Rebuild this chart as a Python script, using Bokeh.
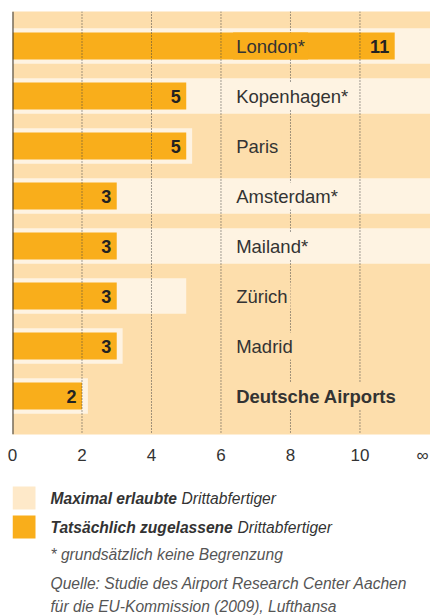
from bokeh.plotting import figure
from bokeh.models import ColumnDataSource, Range1d, FixedTicker, Span
from bokeh.layouts import column
from bokeh.core.properties import value
from bokeh.embed import file_html
from bokeh.resources import INLINE

# ---------------- data ----------------
cities = ["London*", "Kopenhagen*", "Paris", "Amsterdam*", "Mailand*",
          "Zürich", "Madrid", "Deutsche Airports"]
actual = [11, 5, 5, 3, 3, 3, 3, 2]
INF = float("inf")
max_allowed = [INF, INF, 5, INF, INF, 5, 3, 2]
tick_values = [0, 2, 4, 6, 8, 10, 11.8]
tick_labels = ["0", "2", "4", "6", "8", "10", "∞"]
grid_values = [2, 4, 6, 8, 10]

legend_max = ["Maximal erlaubte", "Drittabfertiger"]
legend_act = ["Tatsächlich zugelassene", "Drittabfertiger"]
footnote = "* grundsätzlich keine Begrenzung"
source_lines = ["Quelle: Studie des Airport Research Center Aachen",
                "für die EU-Kommission (2009), Lufthansa"]

# ---------------- styles ----------------
PEACH = "#FDDEAC"
CREAM = "#FEF3E2"
ORANGE = "#F9AE1B"
SWATCH = "#FEE9C9"
DARK = "#333333"
FONT = "Liberation Sans"

X_END = 12.03
LABEL_X = 6.35
OUTLINE = 0.17
W = 430
LEFT = 12

ys = list(range(len(cities)))
cream_right = [X_END + 1 if m == INF else (m + OUTLINE if m == a else m)
               for m, a in zip(max_allowed, actual)]
label_bg = [ORANGE if a > LABEL_X else (CREAM if m > LABEL_X else PEACH)
            for m, a in zip(max_allowed, actual)]
name_style = ["bold" if c.startswith("Deutsche") else "normal" for c in cities]

src = ColumnDataSource(dict(
    y=ys, city=cities, actual=actual, cream_right=cream_right,
    label_x=[LABEL_X] * len(cities), bg=label_bg, style=name_style,
    val_x=[a - 0.16 for a in actual], val_txt=[str(a) for a in actual],
))

Y_TOP, Y_BOT = -0.69, 7.77
p = figure(width=W, height=472, x_range=Range1d(0, X_END),
           y_range=Range1d(Y_BOT, Y_TOP), output_backend="svg",
           toolbar_location=None, y_axis_location=None,
           min_border_left=LEFT, min_border_right=0,
           min_border_top=11, min_border_bottom=38)
p.background_fill_color = PEACH
p.border_fill_color = "white"
p.outline_line_color = None
p.xgrid.visible = False
p.ygrid.visible = False

p.hbar(y="y", left=0, right="cream_right", height=0.71, source=src,
       fill_color=CREAM, line_color=None)
p.hbar(y="y", left=0, right="actual", height=0.54, source=src,
       fill_color=ORANGE, line_color=None)

p.segment(x0=grid_values, x1=grid_values, y0=[Y_TOP] * len(grid_values),
          y1=[Y_BOT] * len(grid_values), line_color="#444444", line_width=1,
          line_dash="1 2")

p.text(x="label_x", y="y", text="city", source=src,
       text_font=value(FONT), text_font_size="18.5px", text_color=DARK,
       text_font_style="style", text_baseline="middle", text_align="left",
       background_fill_color="bg", padding=3)
p.text(x="val_x", y="y", text="val_txt", source=src,
       text_font=value(FONT), text_font_size="18px", text_color="#222222",
       text_font_style="bold", text_baseline="middle", text_align="right")

p.add_layout(Span(location=0, dimension="height", line_color=DARK, line_width=2))

p.xaxis.ticker = FixedTicker(ticks=tick_values)
p.xaxis.major_label_overrides = {t: l for t, l in zip(tick_values, tick_labels)}
p.xaxis.axis_line_color = None
p.xaxis.major_tick_line_color = None
p.xaxis.minor_tick_line_color = None
p.xaxis.major_label_text_font = FONT
p.xaxis.major_label_text_font_size = "17px"
p.xaxis.major_label_text_color = DARK
p.xaxis.major_label_standoff = 5

# ---------------- legend / notes (pixel space, frame starts at LEFT) ----------------
H2 = 143
q = figure(width=W, height=H2, x_range=Range1d(LEFT, W), y_range=Range1d(H2, 0),
           output_backend="svg", toolbar_location=None,
           x_axis_location=None, y_axis_location=None,
           min_border_left=LEFT, min_border_right=0,
           min_border_top=0, min_border_bottom=0)
q.grid.visible = False
q.outline_line_color = None
q.background_fill_color = "white"
q.border_fill_color = "white"

q.quad(left=[12, 12], right=[35, 35], top=[14, 43], bottom=[37, 66],
       fill_color=[SWATCH, ORANGE], line_color=None)

q.text(x=[50, 50], y=[25.5, 54.5], text=[legend_max[0], legend_act[0]],
       text_font=value(FONT), text_font_size="15.6px", text_color=DARK,
       text_font_style="bold italic", text_baseline="middle")
q.text(x=[181, 237], y=[25.5, 54.5], text=[legend_max[1], legend_act[1]],
       text_font=value(FONT), text_font_size="15.6px", text_color=DARK,
       text_font_style="italic", text_baseline="middle")
q.text(x=[50, 50, 50], y=[81.5, 111, 133.5], text=[footnote] + source_lines,
       text_font=value(FONT), text_font_size="15.6px", text_color="#555555",
       text_font_style="italic", text_baseline="middle")

layout = column(p, q, spacing=0)
open("out.html", "w").write(file_html(layout, INLINE))
